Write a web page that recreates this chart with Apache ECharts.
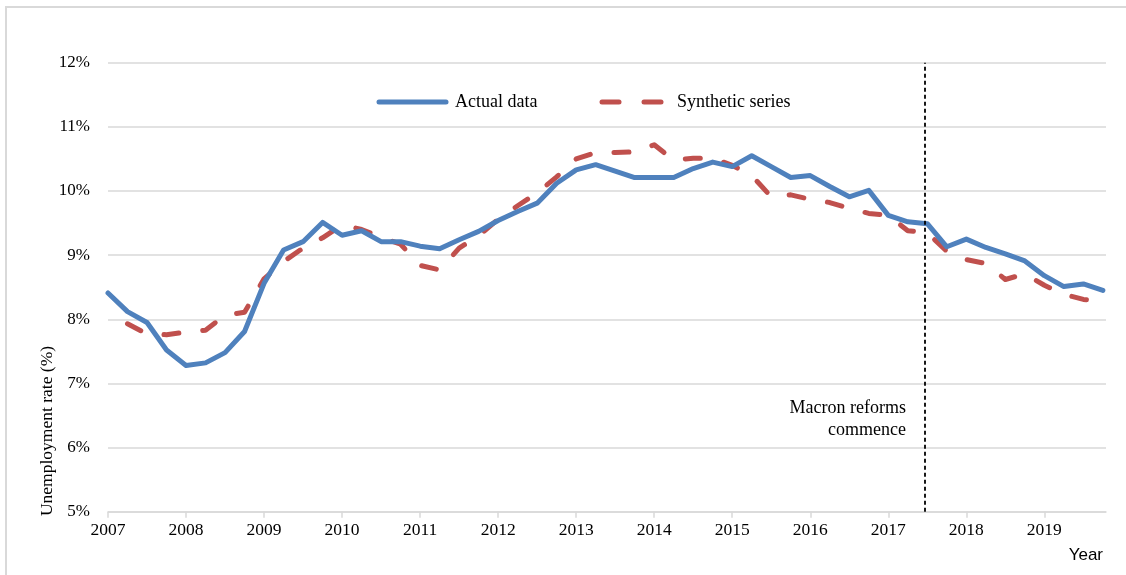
<!DOCTYPE html>
<html>
<head>
<meta charset="utf-8">
<script src="https://cdn.jsdelivr.net/npm/echarts@6/dist/echarts.min.js"></script>
<style>html,body{margin:0;padding:0;background:#fff}#c{width:1126px;height:575px}</style>
</head>
<body>
<div id="c"></div>
<script>
const quarters = [2007,2007.25,2007.5,2007.75,2008,2008.25,2008.5,2008.75,2009,2009.25,2009.5,2009.75,
  2010,2010.25,2010.5,2010.75,2011,2011.25,2011.5,2011.75,2012,2012.25,2012.5,2012.75,
  2013,2013.25,2013.5,2013.75,2014,2014.25,2014.5,2014.75,2015,2015.25,2015.5,2015.75,
  2016,2016.25,2016.5,2016.75,2017,2017.25,2017.5,2017.75,2018,2018.25,2018.5,2018.75,
  2019,2019.25,2019.5,2019.75];
const actualData = [8.41,8.12,7.95,7.52,7.28,7.32,7.48,7.81,8.56,9.08,9.21,9.51,
  9.31,9.38,9.21,9.21,9.14,9.10,9.24,9.37,9.54,9.68,9.81,10.12,
  10.33,10.41,10.31,10.21,10.21,10.21,10.35,10.45,10.38,10.55,10.38,10.21,
  10.24,10.07,9.91,10.01,9.62,9.52,9.49,9.13,9.25,9.12,9.02,8.91,
  8.68,8.51,8.55,8.45];
const syntheticData = [null,7.93,7.77,7.76,7.80,7.83,8.06,8.11,8.63,8.90,9.11,9.27,
  9.47,9.40,9.28,9.17,8.84,8.77,9.11,9.30,9.56,9.77,9.97,10.22,
  10.50,10.60,10.60,10.61,10.72,10.48,10.51,10.51,10.40,10.24,9.91,9.94,
  9.87,9.82,9.73,9.65,9.62,9.38,9.35,9.06,8.93,8.87,8.62,8.71,
  8.53,8.39,8.31,8.28];
const seriesNames = ['Actual data', 'Synthetic series'];
const reformDate = 2017.47;
const yTicks = [5,6,7,8,9,10,11,12];

const BLUE = '#4F81BD', RED = '#C0504D';
const chart = echarts.init(document.getElementById('c'), null, {renderer: 'canvas'});
const serif = '"Liberation Serif", "DejaVu Serif", serif';
chart.setOption({
  animation: false,
  backgroundColor: '#fff',
  grid: {left: 108, right: 20, top: 62.7, bottom: 63.3, containLabel: false},
  xAxis: {
    type: 'value', min: 2007, max: 2019.79, interval: 1,
    axisLine: {show: true, lineStyle: {color: '#d9d9d9', width: 1.5}},
    axisTick: {show: true, length: 6, lineStyle: {color: '#d9d9d9', width: 1.5}},
    splitLine: {show: false},
    axisLabel: {
      showMaxLabel: false, margin: 10,
      fontFamily: serif, fontSize: 17.5, color: '#000',
      formatter: v => Number.isInteger(v) ? String(v) : ''
    }
  },
  yAxis: {
    type: 'value', min: yTicks[0], max: yTicks[yTicks.length-1], interval: 1,
    axisLine: {show: false}, axisTick: {show: false},
    splitLine: {lineStyle: {color: '#d9d9d9', width: 1.5}},
    axisLabel: {margin: 18, fontFamily: serif, fontSize: 17, color: '#000', formatter: v => v + '%'}
  },
  series: [
    {
      name: seriesNames[0], type: 'line', symbol: 'none',
      data: quarters.map((q, i) => [q, actualData[i]]),
      lineStyle: {color: BLUE, width: 5, cap: 'round', join: 'round'},
      itemStyle: {color: BLUE},
      z: 3,
      markLine: {
        silent: true, symbol: ['none','none'],
        label: {show: false},
        lineStyle: {color: '#000', type: [4, 3], width: 1.8},
        data: [{xAxis: reformDate}]
      }
    },
    {
      name: seriesNames[1], type: 'line', symbol: 'none',
      data: quarters.map((q, i) => [q, syntheticData[i]]),
      lineStyle: {color: RED, width: 5, type: [15, 24], cap: 'round', join: 'round'},
      itemStyle: {color: RED},
      z: 2
    }
  ],
  graphic: [
    {type: 'rect', silent: true, shape: {x: 6, y: 7, width: 1140, height: 600},
     style: {fill: 'none', stroke: '#d9d9d9', lineWidth: 2}},
    // legend
    {type: 'line', shape: {x1: 379, y1: 102, x2: 446, y2: 102},
     style: {stroke: BLUE, lineWidth: 5, lineCap: 'round'}},
    {type: 'text', x: 455, y: 102,
     style: {text: seriesNames[0], font: '18px ' + serif, fill: '#000', align: 'left', verticalAlign: 'middle'}},
    {type: 'line', shape: {x1: 602, y1: 102, x2: 619, y2: 102},
     style: {stroke: RED, lineWidth: 5, lineCap: 'round'}},
    {type: 'line', shape: {x1: 644, y1: 102, x2: 661, y2: 102},
     style: {stroke: RED, lineWidth: 5, lineCap: 'round'}},
    {type: 'text', x: 677, y: 102,
     style: {text: seriesNames[1], font: '18px ' + serif, fill: '#000', align: 'left', verticalAlign: 'middle'}},
    // axis names
    {type: 'text', x: 47, y: 431, rotation: Math.PI/2,
     style: {text: 'Unemployment rate (%)', font: '17.5px ' + serif, fill: '#000', align: 'center', verticalAlign: 'middle'}},
    {type: 'text', x: 1103, y: 555,
     style: {text: 'Year', font: '17px "Liberation Sans", Arial, sans-serif', fill: '#000', align: 'right', verticalAlign: 'middle'}},
    {type: 'text', x: 906, y: 419,
     style: {text: 'Macron reforms\ncommence', font: '18px ' + serif, fill: '#000', align: 'right', verticalAlign: 'middle', lineHeight: 22}}
  ]
});
</script>
</body>
</html>
